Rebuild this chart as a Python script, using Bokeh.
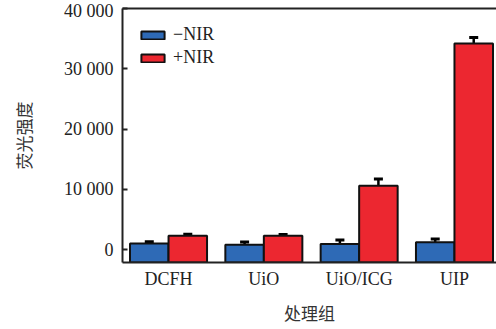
from bokeh.plotting import figure
from bokeh.models import (ColumnDataSource, FixedTicker, LinearAxis, Whisker, TeeHead,
                          Legend, LegendItem, Range1d)
from bokeh.embed import file_html
from bokeh.resources import INLINE

categories = ["DCFH", "UiO", "UiO/ICG", "UIP"]
minus_nir = [1000, 800, 900, 1200]
minus_err = [300, 450, 700, 550]
plus_nir = [2300, 2300, 10600, 34200]
plus_err = [250, 200, 1100, 1000]
y_ticks = [0, 10000, 20000, 30000, 40000]
y_tick_labels = ["0", "10 000", "20 000", "30 000", "40 000"]
series_names = ["−NIR", "+NIR"]

BLUE = "#2e6ab6"
RED = "#ec2730"
FONT = "Liberation Serif"
CJK = "Noto Sans CJK SC"

y0 = -2150
xs = [i + 1 for i in range(len(categories))]
bw = 0.404
src_m = ColumnDataSource(dict(x=[x - bw / 2 for x in xs], top=minus_nir,
                              lo=[v - e for v, e in zip(minus_nir, minus_err)],
                              hi=[v + e for v, e in zip(minus_nir, minus_err)]))
src_p = ColumnDataSource(dict(x=[x + bw / 2 for x in xs], top=plus_nir,
                              lo=[v - e for v, e in zip(plus_nir, plus_err)],
                              hi=[v + e for v, e in zip(plus_nir, plus_err)]))

p = figure(width=496, height=329, output_backend="svg", toolbar_location=None,
           x_range=Range1d(0.517, 4.441), y_range=Range1d(y0, 40000),
           min_border_left=122, min_border_right=0, min_border_top=8, min_border_bottom=67,
           x_axis_location="below")
p.outline_line_color = None
p.grid.visible = False
p.background_fill_color = "white"

r_m = p.vbar(x="x", top="top", bottom=y0, width=bw, source=src_m,
             fill_color=BLUE, line_color="#111111", line_width=2)
r_p = p.vbar(x="x", top="top", bottom=y0, width=bw, source=src_p,
             fill_color=RED, line_color="#111111", line_width=2)

for src in (src_m, src_p):
    w = Whisker(base="x", lower="lo", upper="hi", source=src, line_width=2.5, line_color="black",
                upper_head=TeeHead(size=9, line_width=3, line_color="black"),
                lower_head=TeeHead(size=9, line_width=3, line_color="black"))
    p.add_layout(w)

# y axis
ya = p.yaxis[0]
ya.ticker = FixedTicker(ticks=y_ticks)
ya.major_label_overrides = {t: l for t, l in zip(y_ticks, y_tick_labels)}
ya.major_tick_in = 5
ya.major_tick_out = 0
ya.minor_tick_in = 0
ya.minor_tick_out = 0
ya.major_tick_line_width = 2
ya.axis_line_width = 2
ya.axis_line_color = "#222222"
ya.major_tick_line_color = "#222222"
ya.major_label_text_font = FONT
ya.major_label_text_font_size = "18px"
ya.major_label_text_color = "#222222"
ya.major_label_standoff = 9
ya.axis_label = "荧光强度"
ya.axis_label_text_font = CJK
ya.axis_label_text_font_style = "normal"
ya.axis_label_text_font_size = "17px"
ya.axis_label_text_color = "#333333"
ya.axis_label_standoff = 25

# x axis
xa = p.xaxis[0]
xa.ticker = FixedTicker(ticks=xs)
xa.major_label_overrides = {x: c for x, c in zip(xs, categories)}
xa.major_tick_in = 0
xa.major_tick_out = 0
xa.minor_tick_in = 0
xa.minor_tick_out = 0
xa.axis_line_width = 2
xa.axis_line_color = "#222222"
xa.major_label_text_font = FONT
xa.major_label_text_font_size = "18px"
xa.major_label_text_color = "#222222"
xa.major_label_standoff = 6
xa.axis_label = "处理组"
xa.axis_label_text_font = CJK
xa.axis_label_text_font_style = "normal"
xa.axis_label_text_font_size = "17px"
xa.axis_label_text_color = "#333333"
xa.axis_label_standoff = 8

# top border line
top = LinearAxis(ticker=FixedTicker(ticks=[]), major_label_text_font_size="0px",
                 major_tick_in=0, major_tick_out=0, minor_tick_in=0, minor_tick_out=0,
                 axis_line_width=2, axis_line_color="#222222")
p.add_layout(top, "above")

legend = Legend(items=[LegendItem(label=series_names[0], renderers=[r_m]),
                       LegendItem(label=series_names[1], renderers=[r_p])],
                location="top_left", border_line_color=None, background_fill_alpha=0,
                glyph_width=29, glyph_height=10, label_height=20, spacing=2,
                margin=16, padding=10, label_standoff=6,
                label_text_font=FONT, label_text_font_size="18px", label_text_color="#222222")
p.add_layout(legend)

open("out.html", "w").write(file_html(p, INLINE))
